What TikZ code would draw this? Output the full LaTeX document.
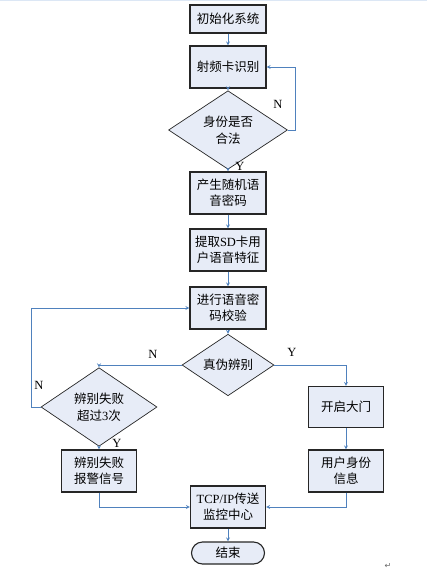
\documentclass[tikz,border=0pt]{standalone}
\usepackage{fontspec}
\setmainfont{Liberation Serif}
\newfontfamily\cjk{Noto Sans CJK SC}
\newfontfamily\symfont{DejaVu Sans}
\usetikzlibrary{shapes.geometric}
\definecolor{boxfill}{RGB}{231,236,247}
\definecolor{flowblue}{RGB}{79,129,189}
\definecolor{bandblue}{RGB}{220,231,245}

\begin{document}
\begin{tikzpicture}[x=1pt, y=-1pt, >=stealth,
    box/.style={draw=black!85, line width=1.1pt, fill=boxfill, minimum width=76pt,
      minimum height=42pt, inner sep=1pt, align=center,
      font=\cjk\fontsize{12.5}{16}\selectfont},
    decide/.style={diamond, draw=black!85, line width=0.7pt, fill=boxfill, inner sep=0pt,
      align=center, font=\cjk\fontsize{12.5}{17}\selectfont},
    flow/.style={->, draw=flowblue, line width=0.8pt},
    tag/.style={font=\fontsize{12.5}{14}\selectfont}]

  \useasboundingbox (0,0) rectangle (427,572);
  \fill[bandblue] (0,0) rectangle (427,1.5); % top band

  % Main column
  \node[box, minimum height=28pt] (init) at (228,19) {初始化系统};
  \node[box] (rfid) at (228,67) {射频卡识别};
  \node[decide, minimum width=119pt, minimum height=49pt] (check) at (228,130) {身份是否\\合法};
  \node[box] (gen) at (228,193) {产生随机语\\音密码};
  \node[box] (extract) at (228,250) {提取\textrm{SD}卡用\\户语音特征};
  \node[box] (verify) at (228,308) {进行语音密\\码校验};
  \node[decide, minimum width=92pt, minimum height=50pt] (judge) at (228,365) {真伪辨别};

  % Left and right branches
  \node[decide, minimum width=116pt, minimum height=50pt] (fail3) at (99,407) {辨别失败\\超过\textrm{3}次};
  \node[box, minimum width=75pt, minimum height=41pt] (open) at (346,407) {开启大门};
  \node[box, minimum width=75pt] (alarm) at (99,471) {辨别失败\\报警信号};
  \node[box, minimum width=75pt] (info) at (346,471) {用户身份\\信息};

  % Bottom
  \node[box, minimum width=75pt] (tcp) at (228,507) {\textrm{TCP/IP}传送\\监控中心};
  \node[box, minimum width=73pt, minimum height=22pt, rounded corners=11pt] (stop) at (228,553) {结束};

  % Connectors
  \draw[flow] (init) -- (rfid);
  \draw[flow] (rfid) -- (check);
  \draw[flow] (check.east) -- ++(8,0) |- (rfid.east);
  \draw[flow] (check) -- (gen);
  \draw[flow] (gen) -- (extract);
  \draw[flow] (extract) -- (verify);
  \draw[flow] (verify) -- (judge);
  \draw[flow] (judge.west) -| (fail3.north);
  \draw[flow] (judge.east) -| (open.north);
  \draw[flow] (fail3.west) -- ++(-9,0) |- (verify.west);
  \draw[flow] (fail3) -- (alarm);
  \draw[flow] (open) -- (info);
  \draw[flow] (alarm.south) |- (tcp.west);
  \draw[flow] (info.south) |- (tcp.east);
  \draw[flow] (tcp) -- (stop);

  % Branch labels
  \node[tag] (n1) at (278,104) {N};
  \node[tag] (y1) at (240,166) {Y};
  \node[tag] (n2) at (153,354) {N};
  \node[tag] (y2) at (292,352) {Y};
  \node[tag] (n3) at (39,385) {N};
  \node[tag] (y3) at (117,443) {Y};

  \node[font=\symfont\fontsize{8}{9}\selectfont, text=black!60] (mark) at (388,566) {↵};
\end{tikzpicture}
\end{document}
